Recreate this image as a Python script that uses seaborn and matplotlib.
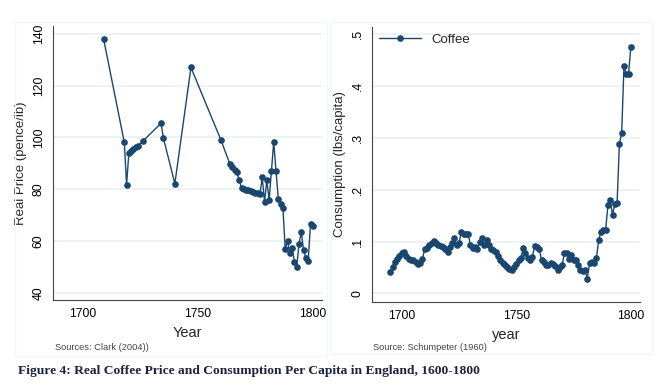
import matplotlib
matplotlib.use("Agg")
import matplotlib.pyplot as plt
from matplotlib.patches import Rectangle
import seaborn as sns
import pandas as pd

# ---- data: left panel (real coffee price) ----
price_years = [1709, 1718, 1719, 1720, 1721, 1722, 1723, 1724, 1726, 1734, 1735,
               1740, 1747, 1760, 1764, 1765, 1766, 1767, 1768, 1769, 1770, 1771,
               1772, 1773, 1774, 1775, 1776, 1777, 1778, 1779, 1780, 1781, 1782,
               1783, 1784, 1785, 1786, 1787, 1788, 1789, 1790, 1791, 1792, 1793,
               1794, 1795, 1796, 1797, 1798, 1799, 1800]
price_values = [138, 98.2, 81.8, 94.1, 94.7, 95.6, 96.3, 96.9, 98.5, 105.5, 99.8,
                82.2, 127, 99.1, 89.6, 88.6, 87.5, 86.6, 83.5, 80.6, 80.2, 79.9,
                79.6, 79.3, 79.0, 78.7, 78.4, 78.0, 84.6, 75.2, 83.5, 75.8, 87.0,
                98.2, 87.0, 76.4, 74.4, 72.9, 57.0, 60.0, 55.5, 57.4, 51.9, 50.0,
                59.0, 63.5, 56.4, 53.6, 52.3, 66.7, 65.7]

# ---- data: right panel (consumption per capita) ----
cons_years = list(range(1695, 1801))
cons_values = [0.042, 0.051, 0.061, 0.067, 0.072, 0.078, 0.080, 0.072, 0.067, 0.065,
               0.065, 0.061, 0.056, 0.058, 0.067, 0.085, 0.088, 0.093, 0.097, 0.101,
               0.097, 0.093, 0.091, 0.090, 0.085, 0.080, 0.090, 0.097, 0.106, 0.093,
               0.097, 0.119, 0.115, 0.114, 0.114, 0.093, 0.087, 0.090, 0.085, 0.099,
               0.106, 0.093, 0.103, 0.093, 0.085, 0.083, 0.080, 0.072, 0.064, 0.059,
               0.054, 0.051, 0.048, 0.046, 0.051, 0.056, 0.065, 0.069, 0.087, 0.078,
               0.069, 0.064, 0.071, 0.091, 0.090, 0.085, 0.065, 0.061, 0.055, 0.055,
               0.058, 0.056, 0.053, 0.046, 0.051, 0.055, 0.077, 0.077, 0.067, 0.074,
               0.065, 0.064, 0.055, 0.046, 0.043, 0.045, 0.028, 0.058, 0.061, 0.058,
               0.069, 0.104, 0.119, 0.122, 0.123, 0.170, 0.180, 0.151, 0.173, 0.175,
               0.288, 0.310, 0.438, 0.424, 0.424, 0.475]

x_ticks = [1700, 1750, 1800]
price_ticks = [40, 60, 80, 100, 120, 140]
cons_ticks = [0, 0.1, 0.2, 0.3, 0.4, 0.5]
cons_tick_labels = ["0", ".1", ".2", ".3", ".4", ".5"]
series_label = "Coffee"

# ---- style ----
sns.set_style("white")
plt.rcParams["font.family"] = ["Liberation Sans", "DejaVu Sans"]

NAVY = "#1a476f"
GRID = "#eaf0f0"
SPINE = "#444444"

W, H = 661, 385
fig = plt.figure(figsize=(W / 100, H / 100), dpi=100)
fig.patch.set_facecolor("white")

def fx(px):
    return px / W

def fy(py):
    return 1 - py / H

ax1 = fig.add_axes([fx(53), fy(300), fx(322 - 53), (300 - 26) / H])
ax2 = fig.add_axes([fx(372), fy(301.7), fx(640 - 372), (301.7 - 27) / H])

df1 = pd.DataFrame({"Year": price_years, "price": price_values})
df2 = pd.DataFrame({"year": cons_years, "cons": cons_values})

sns.lineplot(data=df1, x="Year", y="price", ax=ax1, color=NAVY, marker="o",
             markersize=4.8, markeredgewidth=0, linewidth=1.0)
sns.lineplot(data=df2, x="year", y="cons", ax=ax2, color=NAVY, marker="o",
             markersize=4.8, markeredgewidth=0, linewidth=1.0, label=series_label)

for ax in (ax1, ax2):
    for s in ("top", "right"):
        ax.spines[s].set_visible(False)
    for s in ("left", "bottom"):
        ax.spines[s].set_color(SPINE)
        ax.spines[s].set_linewidth(0.8)
    ax.tick_params(axis="both", direction="out", length=4, width=0.8,
                   color=SPINE, labelsize=8.8, labelcolor="black", pad=2)
    ax.yaxis.grid(True, color=GRID, linewidth=1.2)
    ax.xaxis.grid(False)
    ax.set_axisbelow(True)
    ax.set_xticks(x_ticks)
    ax.set_xlim(1687, 1804)

ax1.set_ylim(37.3, 143)
ax1.set_yticks(price_ticks)
ax1.set_yticklabels([str(t) for t in price_ticks])
ax2.set_ylim(-0.016, 0.514)
ax2.set_yticks(cons_ticks)
ax2.set_yticklabels(cons_tick_labels)

for ax in (ax1, ax2):
    for lab in ax.get_yticklabels():
        lab.set_rotation(90)
        lab.set_va("center")

ax1.set_xlabel("Year", fontsize=10.5, labelpad=4)
ax1.set_ylabel("Real Price (pence/lb)", fontsize=9.5, labelpad=4)
ax2.set_xlabel("year", fontsize=10.5, labelpad=4)
ax2.set_ylabel("Consumption (lbs/capita)", fontsize=9.5, labelpad=4)

leg = ax2.legend(loc="upper left", frameon=False, fontsize=9.5, handlelength=3.2,
                 borderaxespad=0.1, bbox_to_anchor=(0.0, 1.0))

# faint outer graph-region frames
fig.add_artist(Rectangle((fx(15), fy(356)), fx(327 - 15), (356 - 22) / H,
                         transform=fig.transFigure, fill=False,
                         edgecolor="#f3f6f6", linewidth=1))
fig.add_artist(Rectangle((fx(331), fy(354)), fx(652 - 331), (354 - 22) / H,
                         transform=fig.transFigure, fill=False,
                         edgecolor="#f3f6f6", linewidth=1))

fig.text(fx(55), fy(348), "Sources: Clark (2004))", fontsize=6.7, color="#444444",
         va="center", ha="left")
fig.text(fx(373), fy(348), "Source: Schumpeter (1960)", fontsize=6.7, color="#444444",
         va="center", ha="left")

fig.text(fx(18), fy(371),
         "Figure 4: Real Coffee Price and Consumption Per Capita in England, 1600-1800",
         fontsize=9.7, fontweight="bold", family=["Liberation Serif", "DejaVu Serif"],
         color="#1c2340", va="center", ha="left")

fig.savefig("out.png", dpi=100)
